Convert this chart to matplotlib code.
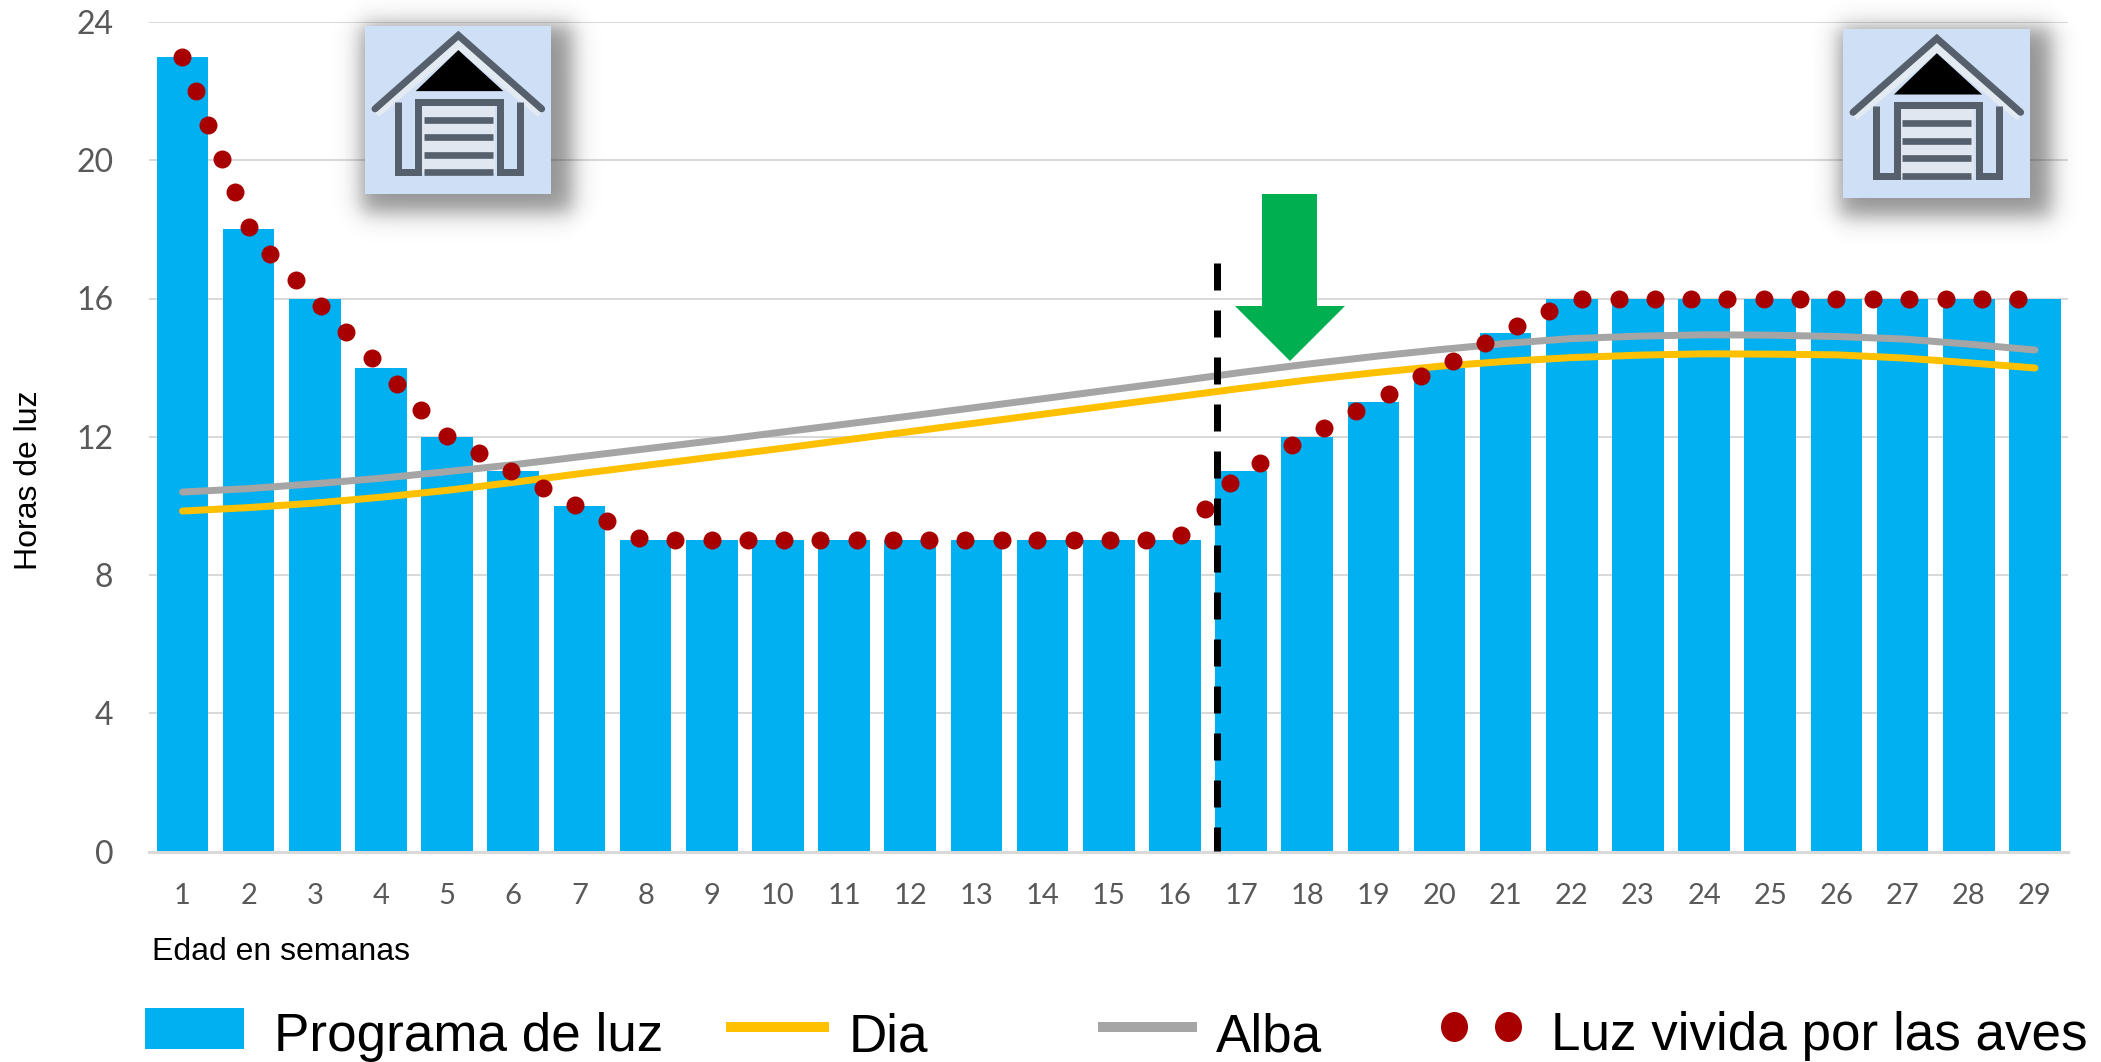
import numpy as np
import matplotlib
matplotlib.use("Agg")
import matplotlib.pyplot as plt
from matplotlib.patches import Polygon, Rectangle, Ellipse

W, H = 2101, 1062
weeks = list(range(1, 30))
programa = [23, 18, 16, 14, 12, 11, 10, 9, 9, 9, 9, 9, 9, 9, 9, 9,
            11, 12, 13, 14, 15, 16, 16, 16, 16, 16, 16, 16, 16]
dia = [9.85, 9.95, 10.08, 10.25, 10.45, 10.68, 10.93, 11.17, 11.41, 11.65, 11.9, 12.15,
       12.4, 12.65, 12.9, 13.15, 13.4, 13.64, 13.85, 14.04, 14.18, 14.29, 14.36, 14.4,
       14.39, 14.37, 14.28, 14.14, 13.99]
alba = [10.4, 10.5, 10.64, 10.8, 10.99, 11.19, 11.42, 11.65, 11.88, 12.12, 12.36, 12.6,
        12.85, 13.1, 13.35, 13.6, 13.86, 14.1, 14.32, 14.52, 14.7, 14.84, 14.91, 14.95,
        14.94, 14.9, 14.83, 14.68, 14.51]
luz_x = [1.0, 1.2, 1.39, 1.6, 1.8, 2.0, 2.33, 2.72, 3.1, 3.47, 3.86, 4.24, 4.6, 5.0,
         5.48, 5.96, 6.45, 6.93, 7.42, 7.9, 8.45, 9.0, 9.55, 10.09, 10.64, 11.19, 11.74,
         12.28, 12.83, 13.38, 13.92, 14.47, 15.02, 15.56, 16.09, 16.45, 16.84, 17.28,
         17.77, 18.26, 18.74, 19.23, 19.72, 20.2, 20.69, 21.17, 21.66, 22.15, 22.71,
         23.26, 23.8, 24.35, 24.9, 25.45, 26.0, 26.56, 27.1, 27.66, 28.2, 28.75]
luz_y = [23, 22, 21.02, 20.05, 19.08, 18.08, 17.3, 16.53, 15.78, 15.03, 14.28, 13.52, 12.78, 12.03,
         11.53, 11.02, 10.53, 10.03, 9.55, 9.07, 9, 9, 9, 9, 9, 9, 9,
         9, 9, 9, 9, 9, 9, 9, 9.15, 9.9, 10.65, 11.25,
         11.75, 12.25, 12.75, 13.25, 13.75, 14.2, 14.7, 15.2, 15.65, 16, 16,
         16, 16, 16, 16, 16, 16, 16, 16, 16, 16, 16]
y_ticks = [0, 4, 8, 12, 16, 20, 24]

BLUE, GOLD, GRAY, RED = "#00B0F0", "#FFC000", "#A5A5A5", "#A80000"
TICK, GRID = "#595959", "#D9D9D9"
px = 0.72

plt.rcParams["font.family"] = ["Liberation Sans", "DejaVu Sans"]
fig = plt.figure(figsize=(W / 100, H / 100), dpi=100, facecolor="white")
L, R, T, B = 149.4, 2068, 22, 851.5
ax = fig.add_axes([L / W, 1 - B / H, (R - L) / W, (B - T) / H])
ax.set_xlim(0.5, 29.5)
ax.set_ylim(0, 24)
ax.set_axisbelow(True)
ax.yaxis.grid(True, color=GRID, lw=2 * px)
for s in ["top", "left", "right"]:
    ax.spines[s].set_visible(False)
ax.spines["bottom"].set_color(GRID)
ax.spines["bottom"].set_linewidth(3 * px)
ax.bar(weeks, programa, width=0.78, color=BLUE, zorder=2)
ax.plot(weeks, dia, color=GOLD, lw=7 * px, zorder=3, solid_capstyle="round")
ax.plot(weeks, alba, color=GRAY, lw=7 * px, zorder=3, solid_capstyle="round")
ax.plot(luz_x, luz_y, "o", color=RED, ms=18 * px, mew=0, zorder=4, clip_on=False)
ax.set_xticks(weeks)
ax.set_xticklabels([str(w) for w in weeks], family="Lato", fontsize=21, color=TICK)
ax.set_yticks(y_ticks)
ax.set_yticklabels([str(v) for v in y_ticks], family="Lato", fontsize=23, color=TICK)
ax.tick_params(axis="both", length=0)
ax.tick_params(axis="x", pad=23)
ax.tick_params(axis="y", pad=26)

# overlay in reference pixel coordinates
ov = fig.add_axes([0, 0, 1, 1], zorder=5)
ov.set_xlim(0, W)
ov.set_ylim(H, 0)
ov.axis("off")
ov.patch.set_alpha(0)


def garage(x0, y0, x1, y1, sx1, sy1):
    """Garage picture with soft shadow; geometry given in the icon's own 558x503 box."""
    xx, yy = np.meshgrid(np.arange(x0 - 50, sx1 + 50), np.arange(0, sy1 + 50))
    sig = 13.0
    a = (0.5 * (np.tanh((xx - (x0 - 4)) / sig) - np.tanh((xx - sx1) / sig)) *
         0.5 * (np.tanh((yy - (y0 - 2)) / sig) - np.tanh((yy - sy1) / sig))) * 0.5
    rgba = np.zeros(a.shape + (4,))
    rgba[..., :3] = 0.15
    rgba[..., 3] = a
    ov.imshow(rgba, extent=(xx[0, 0], xx[0, -1] + 1, yy[-1, 0] + 1, yy[0, 0]),
              interpolation="bilinear", aspect="auto", zorder=1)
    ov.set_xlim(0, W)
    ov.set_ylim(H, 0)
    sx, sy = (x1 - x0) / 558, (y1 - y0) / 503
    P = lambda pts: [(x0 + u * sx, y0 + v * sy) for u, v in pts]
    ov.add_patch(Rectangle((x0, y0), x1 - x0, y1 - y0, color="#CFE0F6", lw=0, zorder=2))
    ov.add_patch(Rectangle(P([(160, 225)])[0], 230 * sx, 215 * sy, color="#E0E7F1", lw=0, zorder=2))
    col = "#55606C"
    lw = 7 * px
    ov.plot(*zip(*P([(30, 258), (280, 48), (530, 258)])), color="#E4EAF2", lw=12 * px,
            zorder=2.5, solid_joinstyle="miter", solid_capstyle="butt")
    ov.plot(*zip(*P([(30, 248), (280, 28), (530, 248)])), color=col, lw=7 * px, zorder=3,
            solid_joinstyle="miter", solid_capstyle="round")
    ov.add_patch(Polygon(P([(152, 195), (280, 72), (415, 195)]), color="black", lw=0, zorder=3))
    ov.plot(*zip(*P([(98, 228), (98, 437), (160, 437), (160, 227), (405, 227), (405, 437),
                     (465, 437), (465, 228)])),
            color=col, lw=lw, zorder=3, solid_joinstyle="miter", solid_capstyle="butt")
    for v in (280, 332, 385, 437):
        ov.plot(*zip(*P([(177, v), (383, v)])), color=col, lw=lw * 0.95, zorder=3,
                solid_capstyle="butt")


garage(365, 26, 551, 194, 572, 212)
garage(1843, 29, 2030, 198, 2051, 216)

# vertical dashed marker
ov.plot([1217, 1217], [263, 851], color="black", lw=7 * px, zorder=4,
        dashes=(27 / 7, 20 / 7), dash_capstyle="butt")
# green arrow
ov.add_patch(Polygon([(1262, 194), (1317, 194), (1317, 306), (1345, 306), (1290, 361),
                      (1235, 306), (1262, 306)], color="#00B050", lw=0, zorder=4))

ov.text(29, 480, "Horas de luz", rotation=90, ha="center", va="center",
        fontsize=23, color="black")
ov.text(152, 960, "Edad en semanas", ha="left", va="baseline", fontsize=23, color="black")

# legend
ov.add_patch(Rectangle((145, 1008), 99, 41, color=BLUE, lw=0, zorder=4))
ov.plot([726, 829], [1027, 1027], color=GOLD, lw=10 * px, zorder=4, solid_capstyle="butt")
ov.plot([1098, 1197], [1027, 1027], color=GRAY, lw=10 * px, zorder=4, solid_capstyle="butt")
for cx in (1454.5, 1508.5):
    ov.add_patch(Ellipse((cx, 1027), 27, 30, color=RED, lw=0, zorder=4))
FS = 38.2
ov.text(274, 1051, "Programa de luz", fontsize=FS, va="baseline", color="black")
ov.text(849, 1051, "Dia", fontsize=FS, va="baseline", color="black")
ov.text(1216, 1051, "Alba", fontsize=FS, va="baseline", color="black")
ov.text(1551, 1050, "Luz vivida por las aves", fontsize=FS, va="baseline", color="black")

fig.savefig("out.png", dpi=100, facecolor="white")
